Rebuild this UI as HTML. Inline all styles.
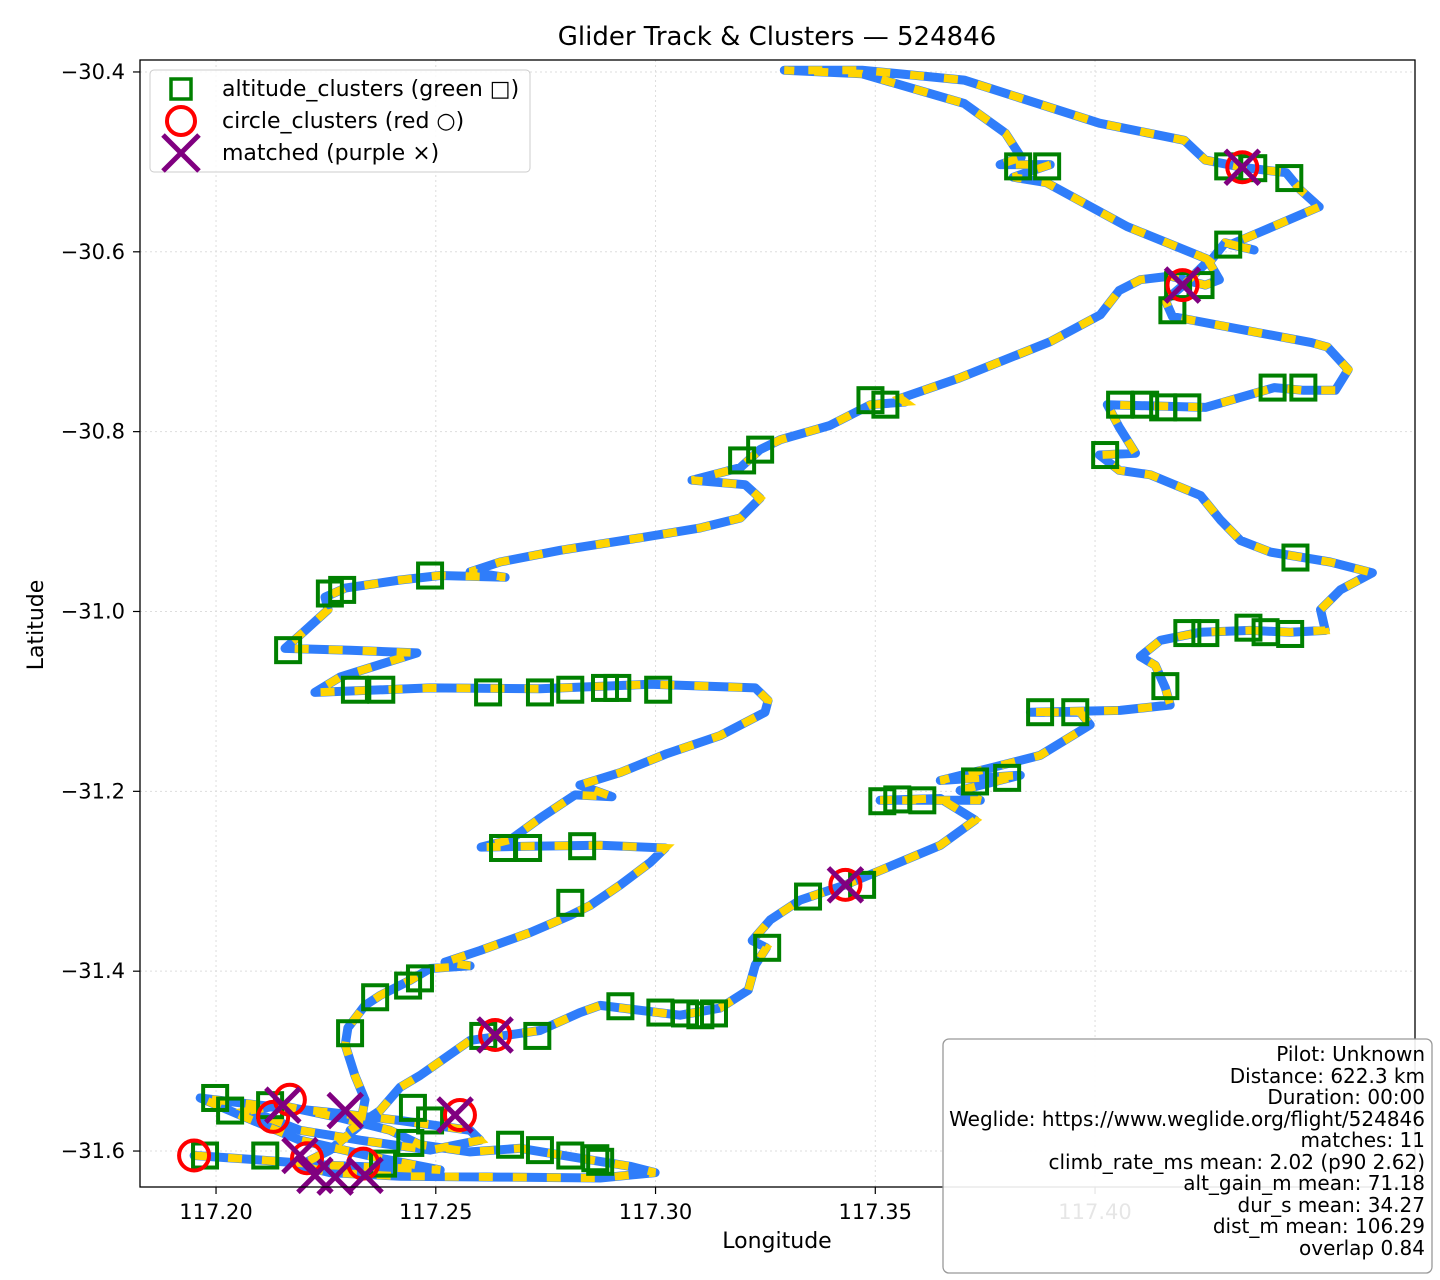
<!DOCTYPE html>
<html><head><meta charset="utf-8"><style>
body{margin:0;background:#fff;}
svg{display:block;font-family:"DejaVu Sans","Liberation Sans",sans-serif;}
</style></head><body>
<svg id="chart" width="1440" height="1280" viewBox="0 0 1440 1280">
<rect x="0" y="0" width="1440" height="1280" fill="#fff"/>
<text x="777" y="45" text-anchor="middle" font-size="26" fill="#000">Glider Track &amp; Clusters — 524846</text>
<g id="grid"></g>
<g id="plot"></g>
<rect x="140" y="60" width="1275" height="1127" fill="none" stroke="#000" stroke-width="1.3"/>
<g id="axes"></g>
<text x="777" y="1248" text-anchor="middle" font-size="22">Longitude</text>
<text x="43" y="625" text-anchor="middle" font-size="22" transform="rotate(-90 43 625)">Latitude</text>
<g>
<rect x="150" y="70" width="380" height="102" rx="4" fill="#fff" fill-opacity="0.85" stroke="#ccc"/>
<g>
<rect x="171" y="79" width="20" height="20" fill="none" stroke="#008000" stroke-width="3.5"/>
<text x="222" y="96" font-size="22">altitude_clusters (green □)</text></g>
<g>
<circle cx="181" cy="121" r="14" fill="none" stroke="#ff0000" stroke-width="4"/>
<text x="222" y="128" font-size="22">circle_clusters (red ○)</text></g>
<g>
<path d="M163 135L199 171M199 135L163 171" stroke="#800080" stroke-width="5"/>
<text x="222" y="160" font-size="22">matched (purple ×)</text></g>
</g>
<g>
<rect x="943" y="1039" width="489" height="234" rx="6" fill="#fff" fill-opacity="0.9" stroke="#999" stroke-width="1.3"/>
<g font-size="20" text-anchor="end">
<text x="1425" y="1061">Pilot: Unknown</text>
<text x="1425" y="1083">Distance: 622.3 km</text>
<text x="1425" y="1104">Duration: 00:00</text>
<text x="1425" y="1126">Weglide: https://www.weglide.org/flight/524846</text>
<text x="1425" y="1147">matches: 11</text>
<text x="1425" y="1169">climb_rate_ms mean: 2.02 (p90 2.62)</text>
<text x="1425" y="1190">alt_gain_m mean: 71.18</text>
<text x="1425" y="1212">dur_s mean: 34.27</text>
<text x="1425" y="1233">dist_m mean: 106.29</text>
<text x="1425" y="1255">overlap 0.84</text>
</g></g>
</svg>
<script>
const xTicks=[117.20,117.25,117.30,117.35,117.40];
const xTickLabels=["117.20","117.25","117.30","117.35","117.40"];
const yTicks=[-30.4,-30.6,-30.8,-31.0,-31.2,-31.4,-31.6];
const yTickLabels=["−30.4","−30.6","−30.8","−31.0","−31.2","−31.4","−31.6"];
const trackLon=[117.1950,117.2100,117.2259,117.2419,117.2510,117.2373,117.2191,117.2055,117.1964,117.2100,117.2259,117.2419,117.2578,117.2601,117.2487,117.2328,117.2191,117.2077,117.2146,117.2282,117.2396,117.2464,117.2578,117.2692,117.2828,117.2942,117.2999,117.2874,117.2646,117.2419,117.2259,117.2191,117.2259,117.2328,117.2339,117.2316,117.2294,117.2300,117.2339,117.2373,117.2442,117.2487,117.2578,117.2521,117.2601,117.2715,117.2806,117.2851,117.2920,117.2988,117.3022,117.2874,117.2715,117.2603,117.2669,117.2737,117.2817,117.2901,117.2828,117.2920,117.3026,117.3147,117.3249,117.3256,117.3227,117.2988,117.2737,117.2487,117.2225,117.2282,117.2457,117.2305,117.2157,117.2203,117.2255,117.2248,117.2294,117.2419,117.2510,117.2658,117.2578,117.2646,117.2783,117.2965,117.3102,117.3193,117.3238,117.3204,117.3083,117.3193,117.3238,117.3284,117.3397,117.3489,117.3568,117.3557,117.3693,117.3898,117.4012,117.4055,117.4103,117.4171,117.4251,117.4283,117.4260,117.4296,117.4362,117.4308,117.4376,117.4510,117.4467,117.4435,117.4335,117.4251,117.4203,117.4010,117.3702,117.3470,117.3293,117.3470,117.3702,117.3796,117.3832,117.3784,117.3898,117.3814,117.3889,117.4073,117.4260,117.4201,117.4160,117.4176,117.4492,117.4529,117.4576,117.4547,117.4474,117.4408,117.4251,117.4028,117.4055,117.4092,117.4010,117.4055,117.4126,117.4240,117.4285,117.4331,117.4399,117.4535,117.4631,117.4558,117.4513,117.4524,117.4444,117.4353,117.4240,117.4149,117.4103,117.4137,117.4160,117.4171,117.4057,117.3853,117.3966,117.3989,117.3875,117.3762,117.3648,117.3830,117.3693,117.3739,117.3511,117.3648,117.3727,117.3648,117.3511,117.3432,117.3329,117.3261,117.3220,117.3252,117.3227,117.3211,117.3147,117.3056,117.2874,117.2828,117.2737,117.2578,117.2464,117.2419,117.2373,117.2305];
const trackLat=[-31.605,-31.610,-31.616,-31.619,-31.621,-31.608,-31.588,-31.560,-31.541,-31.549,-31.557,-31.566,-31.577,-31.588,-31.599,-31.588,-31.577,-31.555,-31.549,-31.563,-31.577,-31.593,-31.601,-31.597,-31.608,-31.617,-31.624,-31.630,-31.629,-31.628,-31.624,-31.616,-31.599,-31.571,-31.543,-31.516,-31.482,-31.463,-31.438,-31.427,-31.410,-31.397,-31.394,-31.390,-31.377,-31.357,-31.338,-31.327,-31.304,-31.279,-31.263,-31.260,-31.261,-31.262,-31.254,-31.230,-31.204,-31.206,-31.193,-31.179,-31.158,-31.138,-31.112,-31.099,-31.085,-31.081,-31.086,-31.085,-31.090,-31.073,-31.046,-31.043,-31.041,-31.021,-30.998,-30.984,-30.974,-30.965,-30.960,-30.962,-30.956,-30.945,-30.932,-30.918,-30.907,-30.896,-30.874,-30.859,-30.854,-30.840,-30.820,-30.809,-30.793,-30.770,-30.767,-30.763,-30.740,-30.700,-30.670,-30.643,-30.631,-30.627,-30.637,-30.631,-30.612,-30.590,-30.598,-30.592,-30.578,-30.550,-30.531,-30.512,-30.506,-30.498,-30.476,-30.457,-30.409,-30.398,-30.398,-30.402,-30.435,-30.468,-30.495,-30.503,-30.503,-30.517,-30.523,-30.572,-30.609,-30.637,-30.654,-30.672,-30.701,-30.706,-30.731,-30.754,-30.754,-30.751,-30.773,-30.770,-30.795,-30.824,-30.826,-30.843,-30.848,-30.871,-30.898,-30.921,-30.934,-30.945,-30.957,-30.976,-30.998,-31.021,-31.023,-31.021,-31.023,-31.032,-31.050,-31.060,-31.085,-31.104,-31.110,-31.112,-31.112,-31.126,-31.160,-31.174,-31.188,-31.182,-31.199,-31.210,-31.210,-31.208,-31.232,-31.260,-31.288,-31.304,-31.321,-31.343,-31.366,-31.374,-31.393,-31.421,-31.441,-31.449,-31.438,-31.446,-31.466,-31.477,-31.516,-31.529,-31.555,-31.577];
const altLon=[117.3825,117.3891,117.4303,117.4360,117.4442,117.4303,117.4189,117.4240,117.4176,117.4404,117.4474,117.4057,117.4114,117.4155,117.4210,117.4023,117.4456,117.4210,117.4251,117.4349,117.4388,117.4444,117.4160,117.3875,117.3955,117.3727,117.3800,117.3516,117.3550,117.3607,117.3347,117.3470,117.3254,117.3489,117.3523,117.3238,117.3197,117.2259,117.2287,117.2487,117.2164,117.2316,117.2376,117.2619,117.2737,117.2806,117.2885,117.2913,117.3006,117.2653,117.2710,117.2833,117.2806,117.3011,117.3067,117.3102,117.3133,117.2920,117.2464,117.2437,117.2362,117.2305,117.2608,117.2731,117.1998,117.1975,117.2123,117.2032,117.2448,117.2487,117.2442,117.2669,117.2737,117.2806,117.2863,117.2874,117.2380,117.2112];
const altLat=[-30.505,-30.505,-30.505,-30.507,-30.518,-30.592,-30.637,-30.637,-30.665,-30.751,-30.751,-30.770,-30.770,-30.773,-30.773,-30.826,-30.940,-31.024,-31.024,-31.018,-31.023,-31.025,-31.083,-31.112,-31.112,-31.189,-31.185,-31.211,-31.209,-31.210,-31.317,-31.304,-31.374,-30.765,-30.770,-30.820,-30.832,-30.980,-30.976,-30.960,-31.043,-31.087,-31.087,-31.090,-31.090,-31.087,-31.085,-31.085,-31.087,-31.263,-31.263,-31.261,-31.324,-31.446,-31.447,-31.449,-31.447,-31.439,-31.408,-31.416,-31.429,-31.469,-31.472,-31.472,-31.541,-31.605,-31.549,-31.555,-31.552,-31.566,-31.591,-31.593,-31.599,-31.605,-31.608,-31.612,-31.614,-31.605];
const circLon=[117.4335,117.4199,117.3432,117.2635,117.1950,117.2130,117.2555,117.2207,117.2335,117.2168];
const circLat=[-30.506,-30.637,-31.304,-31.471,-31.605,-31.562,-31.560,-31.608,-31.614,-31.543];
const matchLon=[117.4335,117.4199,117.3432,117.2635,117.2544,117.2152,117.2294,117.2191,117.2225,117.2271,117.2339];
const matchLat=[-30.506,-30.637,-31.304,-31.471,-31.560,-31.549,-31.555,-31.605,-31.627,-31.629,-31.627];

const X0=117.1827,X1=117.4728,Y0=-30.3867,Y1=-31.6400;
function xS(v){return 140+(v-X0)/(X1-X0)*1275;}
function yS(v){return 60+(Y0-v)/(Y0-Y1)*1127;}
const NS="http://www.w3.org/2000/svg";
function mk(tag,attrs,parent){const e=document.createElementNS(NS,tag);for(const k in attrs)e.setAttribute(k,attrs[k]);parent.appendChild(e);return e;}
const grid=document.getElementById('grid'),plot=document.getElementById('plot'),axes=document.getElementById('axes');
xTicks.forEach((t,i)=>{const x=xS(t);
 const g=mk('line',{x1:x,x2:x,y1:60,y2:1187,stroke:'#ddd','stroke-dasharray':'2 3'},grid);
 
 
 const tk=mk('line',{x1:x,x2:x,y1:1187,y2:1194,stroke:'#000','stroke-width':1.2},axes);
 
 
 const tx=mk('text',{x:x,y:1219,'text-anchor':'middle','font-size':21},axes);tx.textContent=xTickLabels[i];
 
 });
yTicks.forEach((t,i)=>{const y=yS(t);
 const g=mk('line',{x1:140,x2:1415,y1:y,y2:y,stroke:'#ddd','stroke-dasharray':'2 3'},grid);
 
 
 const tk=mk('line',{x1:133,x2:140,y1:y,y2:y,stroke:'#000','stroke-width':1.2},axes);
 
 
 const tx=mk('text',{x:125,y:y+7,'text-anchor':'end','font-size':21},axes);tx.textContent=yTickLabels[i];
 
 });
const pts=trackLon.map((v,i)=>xS(v).toFixed(1)+','+yS(trackLat[i]).toFixed(1)).join(' ');
const tb=mk('polyline',{points:pts,fill:'none',stroke:'#2f7dfa','stroke-width':9,'stroke-linejoin':'round','stroke-linecap':'round'},plot);


const ty=mk('polyline',{points:pts,fill:'none',stroke:'#ffd400','stroke-width':8,'stroke-dasharray':'14 20'},plot);


altLon.forEach((v,i)=>{const r=mk('rect',{x:xS(v)-12,y:yS(altLat[i])-12,width:24,height:24,fill:'none',stroke:'#008000','stroke-width':4},plot);
 
 });
circLon.forEach((v,i)=>{const c=mk('circle',{cx:xS(v),cy:yS(circLat[i]),r:15,fill:'none',stroke:'#ff0000','stroke-width':4},plot);
 
 });
matchLon.forEach((v,i)=>{const x=xS(v),y=yS(matchLat[i]);
 const p=mk('path',{d:`M${x-17} ${y-17}L${x+17} ${y+17}M${x+17} ${y-17}L${x-17} ${y+17}`,stroke:'#800080','stroke-width':5},plot);
 
 });
</script>
</body></html>
